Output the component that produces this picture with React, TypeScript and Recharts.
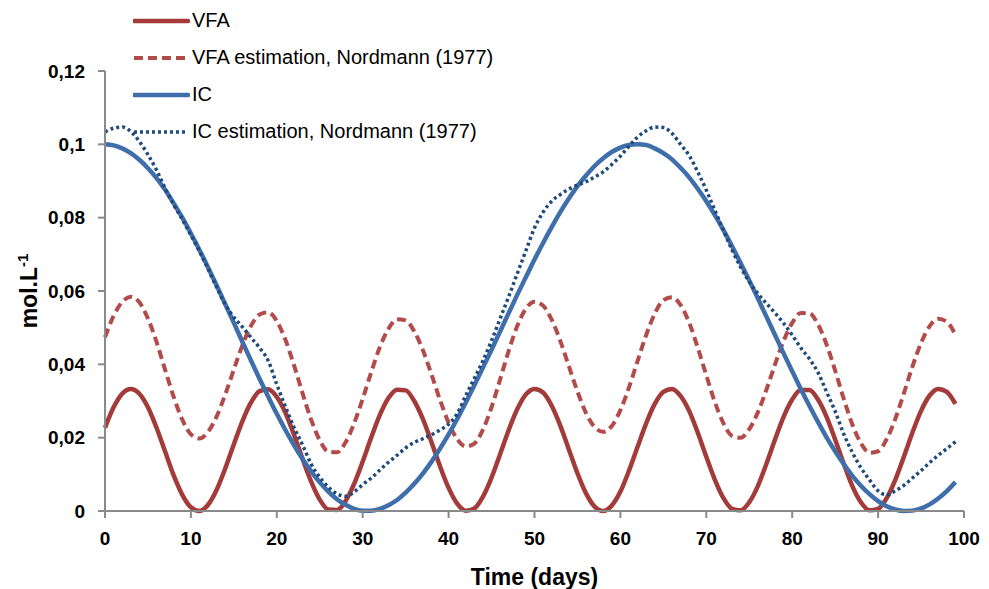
import * as React from "react";
import { LineChart, Line, XAxis, YAxis, Legend } from "recharts";

const days = [
  0, 1, 2, 3, 4, 5, 6, 7, 8, 9, 10, 11, 12, 13, 14, 15, 16, 17, 18, 19, 20, 21, 22, 23, 24, 25, 26, 27, 28, 29,
  30, 31, 32, 33, 34, 35, 36, 37, 38, 39, 40, 41, 42, 43, 44, 45, 46, 47, 48, 49, 50, 51, 52, 53, 54, 55, 56, 57,
  58, 59, 60, 61, 62, 63, 64, 65, 66, 67, 68, 69, 70, 71, 72, 73, 74, 75, 76, 77, 78, 79, 80, 81, 82, 83, 84, 85,
  86, 87, 88, 89, 90, 91, 92, 93, 94, 95, 96, 97, 98, 99,
];

const vfa = [
  0.0227, 0.0283, 0.032, 0.0333, 0.032, 0.0283, 0.0227, 0.0162, 0.0097, 0.0044,
  0.001, 0.0, 0.0017, 0.0058, 0.0116, 0.0182, 0.0245, 0.0296, 0.0327, 0.0332,
  0.0311, 0.0268, 0.0208, 0.0142, 0.008, 0.0031, 0.0004, 0.0003, 0.0027, 0.0074,
  0.0135, 0.0201, 0.0262, 0.0308, 0.0331, 0.0329, 0.03, 0.0251, 0.0188, 0.0122,
  0.0063, 0.002, 0.0001, 0.0007, 0.0039, 0.0091, 0.0155, 0.0221, 0.0278, 0.0318,
  0.0333, 0.0323, 0.0287, 0.0233, 0.0168, 0.0103, 0.0048, 0.0012, 0.0, 0.0015,
  0.0053, 0.011, 0.0175, 0.0239, 0.0292, 0.0325, 0.0333, 0.0314, 0.0273, 0.0214,
  0.0148, 0.0085, 0.0035, 0.0006, 0.0002, 0.0024, 0.0068, 0.0129, 0.0195, 0.0257,
  0.0304, 0.033, 0.033, 0.0304, 0.0257, 0.0195, 0.0129, 0.0068, 0.0024, 0.0002,
  0.0006, 0.0035, 0.0085, 0.0148, 0.0214, 0.0273, 0.0315, 0.0333, 0.0325, 0.0292,
];

const vfaEstimation = [
  0.0474, 0.0532, 0.057, 0.0584, 0.0569, 0.0525, 0.0461, 0.0385, 0.0311, 0.0249,
  0.0209, 0.0198, 0.0216, 0.0258, 0.0318, 0.0386, 0.0452, 0.0505, 0.0536, 0.0542,
  0.0518, 0.0467, 0.0398, 0.0321, 0.0249, 0.0193, 0.0162, 0.016, 0.0187, 0.0239,
  0.0306, 0.0379, 0.0447, 0.0497, 0.0523, 0.052, 0.049, 0.0439, 0.0373, 0.0303,
  0.0241, 0.0196, 0.0176, 0.0184, 0.0222, 0.0283, 0.0359, 0.0437, 0.0505, 0.0552,
  0.0571, 0.056, 0.0522, 0.0464, 0.0395, 0.0326, 0.0267, 0.0229, 0.0216, 0.0232,
  0.0275, 0.0337, 0.0409, 0.048, 0.0538, 0.0575, 0.0583, 0.0562, 0.0514, 0.0446,
  0.037, 0.0297, 0.0239, 0.0205, 0.02, 0.0223, 0.0269, 0.0331, 0.04, 0.0464,
  0.0513, 0.054, 0.0539, 0.0509, 0.0454, 0.0383, 0.0306, 0.0236, 0.0185, 0.0159,
  0.0163, 0.0196, 0.0251, 0.0321, 0.0394, 0.0458, 0.0504, 0.0524, 0.0516, 0.0481,
];

const ic = [
  0.1, 0.0997, 0.0989, 0.0976, 0.0958, 0.0935, 0.0908, 0.0876, 0.0839, 0.08,
  0.0757, 0.0712, 0.0664, 0.0615, 0.0564, 0.0513, 0.0461, 0.041, 0.036, 0.0312,
  0.0265, 0.0221, 0.018, 0.0142, 0.0108, 0.0078, 0.0053, 0.0032, 0.0017, 0.0006,
  0.0001, 0.0001, 0.0006, 0.0016, 0.003, 0.005, 0.0074, 0.0102, 0.0134, 0.017,
  0.0209, 0.0251, 0.0296, 0.0343, 0.0391, 0.044, 0.049, 0.054, 0.059, 0.0638,
  0.0686, 0.0731, 0.0774, 0.0815, 0.0852, 0.0886, 0.0915, 0.0941, 0.0962, 0.0979,
  0.0991, 0.0998, 0.1, 0.0998, 0.0989, 0.0976, 0.0959, 0.0936, 0.091, 0.0879,
  0.0845, 0.0807, 0.0766, 0.0722, 0.0676, 0.0629, 0.058, 0.053, 0.048, 0.043,
  0.0381, 0.0333, 0.0287, 0.0243, 0.0201, 0.0163, 0.0128, 0.0096, 0.0069, 0.0046,
  0.0027, 0.0013, 0.0004, 0.0, 0.0001, 0.0007, 0.0018, 0.0034, 0.0054, 0.0079,
];

const icEstimation = [
  0.1034, 0.1044, 0.1047, 0.1035, 0.1008, 0.0972, 0.093, 0.088, 0.0835, 0.0795,
  0.0752, 0.0708, 0.066, 0.061, 0.0563, 0.0528, 0.0502, 0.0473, 0.0445, 0.041,
  0.0345, 0.0285, 0.0228, 0.018, 0.0128, 0.0092, 0.0065, 0.0047, 0.004, 0.0052,
  0.0072, 0.009, 0.0112, 0.0133, 0.0152, 0.0172, 0.0187, 0.0197, 0.0208, 0.0221,
  0.0237, 0.0265, 0.0315, 0.0362, 0.041, 0.0465, 0.0525, 0.0585, 0.0648, 0.071,
  0.0772, 0.0815, 0.0845, 0.0863, 0.0878, 0.0889, 0.0898, 0.0911, 0.0925, 0.0945,
  0.0968, 0.0995, 0.102, 0.1037, 0.1047, 0.1046, 0.103, 0.1, 0.097, 0.0925,
  0.0875, 0.082, 0.0765, 0.0712, 0.0665, 0.0625, 0.0593, 0.0566, 0.054, 0.0512,
  0.048, 0.0445, 0.0415, 0.0378, 0.0325, 0.0272, 0.021, 0.016, 0.0118, 0.0085,
  0.0055, 0.0044, 0.0055, 0.007, 0.009, 0.011, 0.0132, 0.0152, 0.017, 0.0189,
];

const xTicks = [0, 10, 20, 30, 40, 50, 60, 70, 80, 90, 100];
const yTicks = [0, 0.02, 0.04, 0.06, 0.08, 0.1, 0.12];

const data = days.map((d, i) => ({
  day: d,
  vfa: vfa[i],
  vfaEst: vfaEstimation[i],
  ic: ic[i],
  icEst: icEstimation[i],
}));

const series = [
  { key: "vfa", name: "VFA", color: "#a33b3a", width: 4.5, dash: undefined },
  { key: "vfaEst", name: "VFA estimation, Nordmann (1977)", color: "#b24c4a", width: 4, dash: "9 5" },
  { key: "ic", name: "IC", color: "#3f6faa", width: 4.5, dash: undefined },
  { key: "icEst", name: "IC estimation, Nordmann (1977)", color: "#1f4a7c", width: 3.5, dash: "3 3" },
];

const FONT = "'Liberation Sans', Arial, sans-serif";

const formatTick = (v: number) => String(+v.toFixed(2)).replace(".", ",");

const ChartLegend = () => (
  <div style={{ fontFamily: FONT, fontSize: 20, color: "#000" }}>
    {series.map((s) => (
      <div key={s.key} style={{ display: "flex", alignItems: "center", height: 37 }}>
        <svg width={57} height={10} style={{ marginRight: 2 }}>
          <line
            x1={1}
            y1={5}
            x2={55}
            y2={5}
            stroke={s.color}
            strokeWidth={s.width}
            strokeDasharray={s.dash}
            strokeLinecap={s.dash ? "butt" : "round"}
          />
        </svg>
        <span>{s.name}</span>
      </div>
    ))}
  </div>
);

const YLabel = (props: any) => {
  const { viewBox } = props;
  const cy = viewBox.y + viewBox.height / 2;
  const x = 37;
  return (
    <text
      x={x}
      y={cy}
      transform={`rotate(-90, ${x}, ${cy})`}
      textAnchor="middle"
      fontFamily={FONT}
      fontWeight="bold"
      fontSize={23}
      fill="#000"
    >
      mol.L
      <tspan fontSize={15} dy={-9}>
        -1
      </tspan>
    </text>
  );
};

const XLabel = (props: any) => {
  const { viewBox } = props;
  return (
    <text
      x={viewBox.x + viewBox.width / 2}
      y={viewBox.y + viewBox.height - 4}
      textAnchor="middle"
      fontFamily={FONT}
      fontWeight="bold"
      fontSize={23}
      fill="#000"
    >
      Time (days)
    </text>
  );
};

const App = () => {
  const tickStyle = { fontFamily: FONT, fontWeight: "bold", fontSize: 19, fill: "#000" };
  const axisLine = { stroke: "#8a8a8a", strokeWidth: 2 };

  return (
    <div style={{ position: "absolute", left: 0, top: 0, background: "#fff" }}>
      <LineChart width={989} height={589} data={data} margin={{ top: 71, right: 25, bottom: 0, left: 0 }}>
        <XAxis
          dataKey="day"
          type="number"
          domain={[0, 100]}
          ticks={xTicks}
          height={78}
          tickSize={7}
          tickMargin={14}
          tick={tickStyle}
          axisLine={axisLine}
          tickLine={axisLine}
          label={<XLabel />}
        />
        <YAxis
          domain={[0, 0.12]}
          ticks={yTicks}
          width={105}
          tickSize={7}
          tickMargin={13}
          tick={tickStyle}
          tickFormatter={formatTick}
          axisLine={axisLine}
          tickLine={axisLine}
          label={<YLabel />}
        />
        <Legend
          layout="vertical"
          align="center"
          verticalAlign="middle"
          content={<ChartLegend />}
          wrapperStyle={{ top: 2, left: 133, width: "auto", height: "auto" }}
        />
        {series.map((s) => (
          <Line
            key={s.key}
            dataKey={s.key}
            name={s.name}
            type="monotone"
            stroke={s.color}
            strokeWidth={s.width}
            strokeDasharray={s.dash}
            dot={false}
            activeDot={false}
            isAnimationActive={false}
          />
        ))}
      </LineChart>
    </div>
  );
};

export default App;
